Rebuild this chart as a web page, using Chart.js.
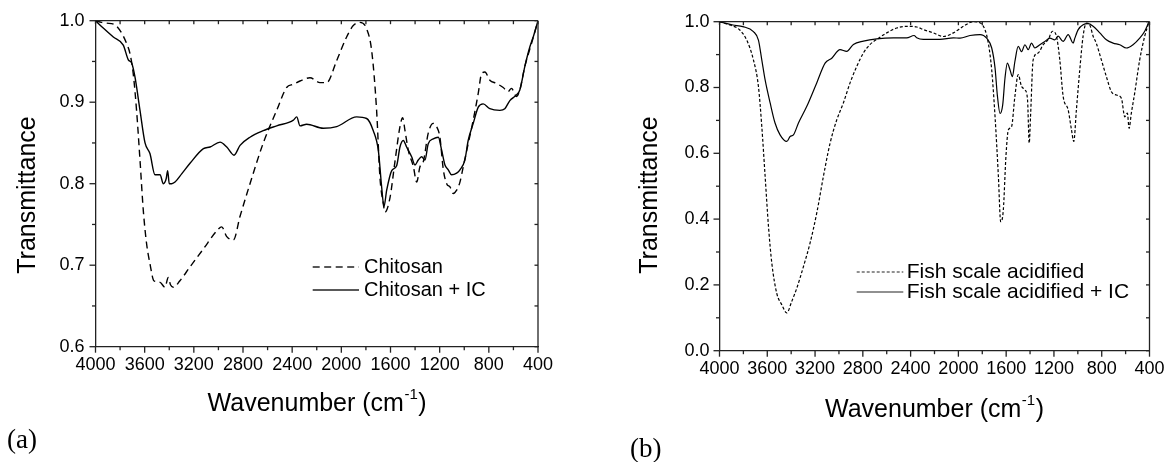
<!DOCTYPE html>
<html>
<head>
<meta charset="utf-8">
<script src="https://cdn.jsdelivr.net/npm/chart.js@4.4.0/dist/chart.umd.min.js"></script>
<style>
  html, body { margin: 0; padding: 0; background: #fff; overflow: hidden; }
  body { width: 1166px; height: 462px; position: relative; }
  canvas { position: absolute; top: 0; }
  #chartA { left: 0; }
  #chartB { left: 560px; }
</style>
</head>
<body>
<canvas id="chartA" width="583" height="462"></canvas>
<canvas id="chartB" width="626" height="462"></canvas>
<script>
// (a) Chitosan
const wnChitosan = [4000, 3950, 3910, 3842, 3788, 3747, 3720, 3693, 3666, 3638, 3611, 3584, 3557, 3525, 3475, 3435, 3408, 3390, 3367, 3313, 3231, 3122, 3014, 2973, 2932, 2878, 2824, 2743, 2635, 2526, 2445, 2390, 2336, 2255, 2174, 2119, 2038, 1957, 1903, 1848, 1794, 1753, 1713, 1686, 1658, 1645, 1604, 1563, 1523, 1501, 1482, 1455, 1414, 1387, 1360, 1333, 1293, 1252, 1225, 1198, 1170, 1143, 1116, 1089, 1062, 1035, 1008, 968, 927, 886, 859, 832, 792, 737, 683, 643, 616, 575, 548, 507, 453, 400];
const tChitosan = [1.0, 0.998, 0.997, 0.995, 0.985, 0.972, 0.960, 0.935, 0.890, 0.829, 0.767, 0.726, 0.702, 0.681, 0.679, 0.673, 0.685, 0.676, 0.673, 0.681, 0.698, 0.720, 0.742, 0.747, 0.735, 0.731, 0.760, 0.800, 0.850, 0.890, 0.918, 0.922, 0.926, 0.930, 0.924, 0.924, 0.951, 0.980, 0.994, 0.998, 0.990, 0.963, 0.890, 0.808, 0.775, 0.765, 0.783, 0.828, 0.870, 0.881, 0.865, 0.841, 0.821, 0.802, 0.821, 0.827, 0.862, 0.874, 0.870, 0.857, 0.817, 0.800, 0.796, 0.788, 0.792, 0.802, 0.821, 0.849, 0.878, 0.911, 0.935, 0.937, 0.927, 0.923, 0.918, 0.913, 0.917, 0.907, 0.915, 0.944, 0.972, 1.0];

// (a) Chitosan + IC
const wnChitosanIC = [4000, 3937, 3855, 3774, 3733, 3706, 3679, 3638, 3597, 3557, 3516, 3475, 3448, 3425, 3413, 3400, 3380, 3353, 3299, 3231, 3122, 3068, 2987, 2932, 2873, 2824, 2743, 2635, 2526, 2390, 2363, 2336, 2282, 2147, 2038, 1875, 1794, 1740, 1699, 1672, 1653, 1631, 1590, 1550, 1523, 1496, 1469, 1428, 1401, 1374, 1347, 1320, 1293, 1252, 1211, 1184, 1157, 1130, 1103, 1062, 1035, 995, 968, 927, 886, 846, 792, 710, 670, 629, 575, 548, 507, 466, 439, 400];
const tChitosanIC = [1.0, 0.991, 0.980, 0.970, 0.952, 0.948, 0.931, 0.890, 0.850, 0.837, 0.811, 0.811, 0.800, 0.806, 0.816, 0.800, 0.800, 0.802, 0.812, 0.825, 0.843, 0.845, 0.851, 0.845, 0.835, 0.847, 0.857, 0.865, 0.871, 0.878, 0.882, 0.871, 0.873, 0.868, 0.870, 0.882, 0.880, 0.865, 0.841, 0.796, 0.772, 0.792, 0.816, 0.822, 0.845, 0.853, 0.845, 0.833, 0.823, 0.829, 0.833, 0.829, 0.849, 0.855, 0.857, 0.841, 0.823, 0.817, 0.811, 0.813, 0.817, 0.829, 0.853, 0.874, 0.894, 0.898, 0.892, 0.890, 0.892, 0.902, 0.909, 0.915, 0.944, 0.968, 0.980, 1.0];

// (b) Fish scale acidified
const wnFish = [4000, 3912, 3828, 3772, 3716, 3674, 3646, 3618, 3590, 3562, 3521, 3479, 3437, 3395, 3353, 3297, 3242, 3186, 3130, 3074, 3018, 2963, 2907, 2851, 2795, 2739, 2684, 2600, 2516, 2433, 2349, 2293, 2209, 2126, 2042, 1958, 1875, 1819, 1777, 1749, 1721, 1693, 1665, 1646, 1624, 1602, 1582, 1555, 1527, 1499, 1471, 1443, 1421, 1407, 1396, 1374, 1332, 1290, 1248, 1212, 1179, 1151, 1123, 1081, 1053, 1034, 1012, 984, 956, 928, 900, 872, 845, 803, 761, 719, 677, 635, 607, 585, 571, 552, 524, 482, 440, 404];
const tFish = [1.0, 0.990, 0.974, 0.944, 0.884, 0.803, 0.682, 0.530, 0.378, 0.266, 0.175, 0.140, 0.115, 0.150, 0.190, 0.256, 0.327, 0.418, 0.530, 0.631, 0.702, 0.753, 0.814, 0.864, 0.905, 0.931, 0.946, 0.966, 0.981, 0.986, 0.984, 0.976, 0.966, 0.955, 0.966, 0.986, 1.0, 0.997, 0.975, 0.934, 0.853, 0.711, 0.529, 0.392, 0.427, 0.590, 0.671, 0.681, 0.773, 0.839, 0.803, 0.793, 0.762, 0.631, 0.712, 0.884, 0.905, 0.930, 0.946, 0.971, 0.956, 0.884, 0.773, 0.732, 0.671, 0.636, 0.732, 0.853, 0.956, 0.996, 0.990, 0.956, 0.934, 0.884, 0.833, 0.787, 0.777, 0.767, 0.711, 0.722, 0.676, 0.722, 0.783, 0.884, 0.956, 1.0];

// (b) Fish scale acidified + IC
const wnFishIC = [4000, 3888, 3805, 3716, 3674, 3646, 3618, 3576, 3535, 3493, 3437, 3409, 3381, 3339, 3270, 3186, 3116, 3060, 2991, 2935, 2879, 2795, 2684, 2544, 2433, 2371, 2349, 2293, 2154, 2042, 1986, 1903, 1819, 1763, 1721, 1693, 1674, 1651, 1629, 1610, 1590, 1568, 1548, 1527, 1499, 1471, 1443, 1415, 1388, 1360, 1318, 1276, 1234, 1193, 1165, 1123, 1081, 1039, 1025, 997, 956, 914, 872, 816, 761, 705, 649, 594, 538, 482, 440, 404];
const tFishIC = [1.0, 0.990, 0.985, 0.970, 0.944, 0.884, 0.823, 0.753, 0.692, 0.656, 0.636, 0.651, 0.656, 0.692, 0.742, 0.814, 0.874, 0.889, 0.915, 0.910, 0.931, 0.941, 0.948, 0.951, 0.951, 0.958, 0.951, 0.946, 0.946, 0.951, 0.950, 0.958, 0.961, 0.950, 0.920, 0.859, 0.777, 0.721, 0.747, 0.828, 0.874, 0.854, 0.833, 0.879, 0.925, 0.909, 0.930, 0.915, 0.935, 0.920, 0.930, 0.940, 0.950, 0.945, 0.956, 0.940, 0.961, 0.935, 0.950, 0.976, 0.991, 0.994, 0.986, 0.966, 0.945, 0.935, 0.930, 0.920, 0.930, 0.950, 0.971, 1.0];

const xTickLabels = [4000, 3600, 3200, 2800, 2400, 2000, 1600, 1200, 800, 400];

const SANS = '"Liberation Sans", Arial, Helvetica, sans-serif';
const SERIF = '"Liberation Serif", "Times New Roman", serif';

function toPoints(xs, ys) {
    return xs.map((x, i) => ({ x: x, y: ys[i] }));
}

// frame, ticks, titles, legend and panel tag
const decorPlugin = {
    id: 'decor',
    afterDraw(chart, args, opts) {
        const ctx = chart.ctx;
        const { left, right, top, bottom } = chart.chartArea;
        const xs = chart.scales.x;
        const ys = chart.scales.y;
        const line = (x1, y1, x2, y2) => {
            ctx.beginPath();
            ctx.moveTo(x1, y1);
            ctx.lineTo(x2, y2);
            ctx.stroke();
        };
        ctx.save();
        ctx.strokeStyle = '#222';
        ctx.lineWidth = 1.3;
        ctx.setLineDash([]);
        line(left, top, right, top);
        line(right, top, right, bottom);

        xs.ticks.forEach(t => {
            const px = xs.getPixelForValue(t.value);
            const major = xTickLabels.includes(Math.round(t.value));
            line(px, bottom, px, bottom + (major ? 6 : 3.5));
            line(px, top, px, top + 3.5);
        });
        ys.ticks.forEach(t => {
            const py = ys.getPixelForValue(t.value);
            const major = Math.round(t.value * 100) % opts.yMajor === 0;
            line(left, py, left - (major ? 6 : 3.5), py);
            line(right, py, right - 3.5, py);
        });

        ctx.fillStyle = '#000';
        // y title
        ctx.font = opts.titleSize + 'px ' + SANS;
        ctx.textBaseline = 'middle';
        ctx.textAlign = 'center';
        ctx.save();
        ctx.translate(opts.yTitle.x, opts.yTitle.y);
        ctx.rotate(-Math.PI / 2);
        ctx.fillText('Transmittance', 0, 0);
        ctx.restore();

        // x title with superscript
        const main = 'Wavenumber (cm';
        const sup = '-1';
        const close = ')';
        const supFont = Math.round(opts.titleSize * 0.6) + 'px ' + SANS;
        ctx.textAlign = 'left';
        const wMain = ctx.measureText(main).width;
        const wClose = ctx.measureText(close).width;
        ctx.font = supFont;
        const wSup = ctx.measureText(sup).width;
        let x0 = opts.xTitle.x - (wMain + wSup + wClose) / 2;
        ctx.font = opts.titleSize + 'px ' + SANS;
        ctx.fillText(main, x0, opts.xTitle.y);
        ctx.font = supFont;
        ctx.fillText(sup, x0 + wMain + 0.5, opts.xTitle.y - opts.titleSize * 0.38);
        ctx.font = opts.titleSize + 'px ' + SANS;
        ctx.fillText(close, x0 + wMain + wSup + 1, opts.xTitle.y);

        // legend
        ctx.font = opts.legend.size + 'px ' + SANS;
        opts.legend.items.forEach(item => {
            ctx.lineWidth = item.width;
            ctx.setLineDash(item.dash);
            line(opts.legend.x1, item.y, opts.legend.x2, item.y);
            ctx.setLineDash([]);
            ctx.fillText(item.label, opts.legend.textX, item.y);
        });

        // panel tag
        ctx.font = opts.tag.size + 'px ' + SERIF;
        ctx.fillText(opts.tag.text, opts.tag.x, opts.tag.y);
        ctx.restore();
    }
};

function makeChart(canvasId, datasets, area, yCfg, decor) {
    const canvas = document.getElementById(canvasId);
    return new Chart(canvas.getContext('2d'), {
        type: 'line',
        data: { datasets: datasets },
        options: {
            responsive: false,
            animation: false,
            events: [],
            layout: { padding: { top: area.top, right: area.right, left: 0, bottom: 0 } },
            elements: {
                point: { radius: 0 },
                line: { borderColor: '#000', cubicInterpolationMode: 'monotone', fill: false }
            },
            scales: {
                x: {
                    type: 'linear',
                    reverse: true,
                    min: 400,
                    max: 4000,
                    grid: { display: false, drawTicks: true, tickLength: 6 },
                    border: { display: true, color: '#222', width: 1.3 },
                    ticks: {
                        stepSize: 200,
                        autoSkip: false,
                        maxRotation: 0,
                        padding: 2,
                        color: '#000',
                        font: { family: SANS, size: 18 },
                        callback: v => xTickLabels.includes(Math.round(v)) ? String(Math.round(v)) : ''
                    },
                    afterFit: s => { s.height = area.xHeight; }
                },
                y: {
                    min: yCfg.min,
                    max: yCfg.max,
                    grid: { display: false, drawTicks: true, tickLength: 6 },
                    border: { display: true, color: '#222', width: 1.3 },
                    ticks: {
                        stepSize: yCfg.step,
                        autoSkip: false,
                        padding: yCfg.pad,
                        color: '#000',
                        font: { family: SANS, size: 18 },
                        callback: v => Math.round(v * 100) % yCfg.major === 0 ? v.toFixed(1) : ''
                    },
                    afterFit: s => { s.width = area.yWidth; }
                }
            },
            plugins: {
                legend: { display: false },
                tooltip: { enabled: false },
                decor: decor
            }
        },
        plugins: [decorPlugin]
    });
}

makeChart('chartA', [
    { label: 'Chitosan', data: toPoints(wnChitosan, tChitosan), borderWidth: 1.4, borderDash: [7, 4.5] },
    { label: 'Chitosan + IC', data: toPoints(wnChitosanIC, tChitosanIC), borderWidth: 1.4 }
], { top: 20.7, right: 45, yWidth: 95.5, xHeight: 115.3 },
   { min: 0.6, max: 1.0, step: 0.05, major: 10, pad: 5 },
   {
       yMajor: 10,
       titleSize: 25,
       yTitle: { x: 28, y: 195 },
       xTitle: { x: 316.6, y: 404 },
       legend: {
           size: 20, x1: 312.7, x2: 359, textX: 364,
           items: [
               { label: 'Chitosan', y: 267, dash: [7, 4.5], width: 1.4 },
               { label: 'Chitosan + IC', y: 290, dash: [], width: 1.4 }
           ]
       },
       tag: { text: '(a)', x: 7, y: 441, size: 27 }
   });

makeChart('chartB', [
    { label: 'Fish scale acidified', data: toPoints(wnFish, tFish), borderWidth: 1.2, borderDash: [3, 2] },
    { label: 'Fish scale acidified + IC', data: toPoints(wnFishIC, tFishIC), borderWidth: 1.2 }
], { top: 21.7, right: 36.5, yWidth: 159.5, xHeight: 111.3 },
   { min: 0, max: 1.0, step: 0.1, major: 20, pad: 4 },
   {
       yMajor: 20,
       titleSize: 25,
       yTitle: { x: 90, y: 195 },
       xTitle: { x: 374, y: 410 },
       legend: {
           size: 21, x1: 296.7, x2: 343.3, textX: 346.7,
           items: [
               { label: 'Fish scale acidified', y: 272, dash: [3, 2], width: 1.2 },
               { label: 'Fish scale acidified + IC', y: 292, dash: [], width: 1.2 }
           ]
       },
       tag: { text: '(b)', x: 70, y: 450, size: 27 }
   });
</script>
</body>
</html>
